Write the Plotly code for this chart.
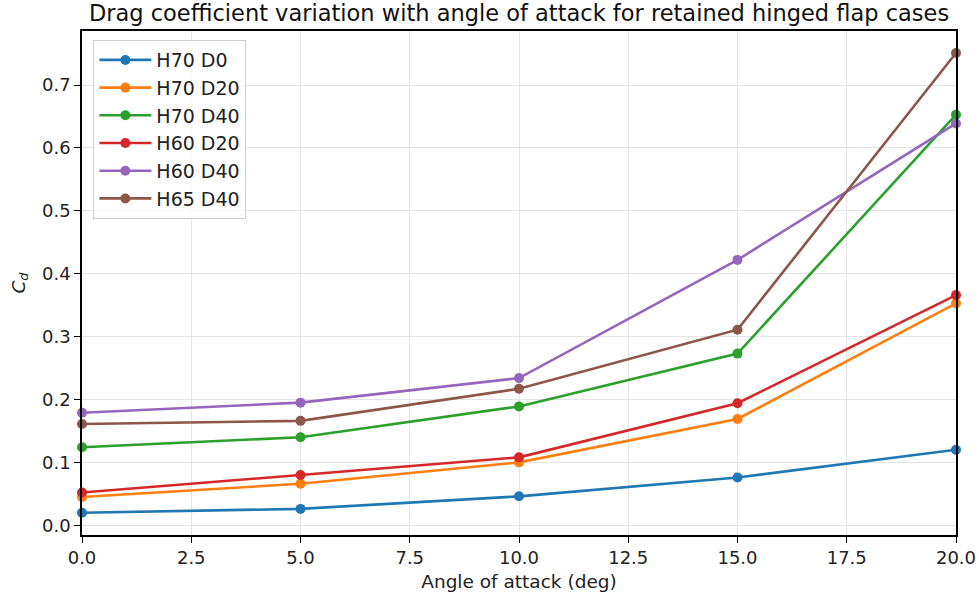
import plotly.graph_objects as go

angles = [0, 5, 10, 15, 20]
series_names = ["H70 D0", "H70 D20", "H70 D40", "H60 D20", "H60 D40", "H65 D40"]
h70_d0 = [0.020, 0.026, 0.046, 0.076, 0.120]
h70_d20 = [0.045, 0.066, 0.100, 0.169, 0.353]
h70_d40 = [0.124, 0.140, 0.189, 0.273, 0.653]
h60_d20 = [0.052, 0.080, 0.108, 0.194, 0.366]
h60_d40 = [0.179, 0.195, 0.234, 0.422, 0.639]
h65_d40 = [0.161, 0.166, 0.217, 0.311, 0.751]
series_values = [h70_d0, h70_d20, h70_d40, h60_d20, h60_d40, h65_d40]
colors = ["#1f77b4", "#ff7f0e", "#2ca02c", "#d62728", "#9467bd", "#8c564b"]

fig = go.Figure()
for name, vals, c in zip(series_names, series_values, colors):
    fig.add_trace(go.Scatter(
        x=angles, y=vals, name=name, mode="lines+markers",
        line=dict(color=c, width=2.6), marker=dict(color=c, size=10),
        cliponaxis=False,
    ))

font = "DejaVu Sans, sans-serif"
fig.update_layout(
    width=979, height=599,
    margin=dict(l=82, r=23, t=31, b=64, autoexpand=False),
    paper_bgcolor="white", plot_bgcolor="white",
    font=dict(family=font, size=18, color="#222"),
    title=dict(text="Drag coefficient variation with angle of attack for retained hinged flap cases",
               x=(82 + 956) / 2 / 979, xref="container", xanchor="center", y=1 - 13 / 599, yanchor="middle",
               yref="container", font=dict(size=22.5, color="#111")),
    showlegend=True,
    legend=dict(x=0.013, y=0.982, xanchor="left", yanchor="top",
                bgcolor="rgba(255,255,255,0.8)", bordercolor="#d0d0d0", borderwidth=1,
                font=dict(size=19, color="#222"), itemwidth=52, tracegroupgap=0),
)
fig.update_xaxes(
    range=[0, 20], dtick=2.5, tick0=0, tickformat=".1f", automargin=False,
    showgrid=True, gridcolor="#e4e4e4", gridwidth=1,
    showline=True, linecolor="black", linewidth=1.5, mirror=True,
    ticks="outside", ticklen=6, tickcolor="black", zeroline=False,
    title=dict(text="Angle of attack (deg)", font=dict(size=18.5), standoff=8),
    tickfont=dict(size=18),
)
fig.update_yaxes(
    range=[-0.0155, 0.786], dtick=0.1, tick0=0, tickformat=".1f", automargin=False,
    showgrid=True, gridcolor="#e4e4e4", gridwidth=1,
    showline=True, linecolor="black", linewidth=1.5, mirror=True,
    ticks="outside", ticklen=6, tickcolor="black", zeroline=False,
    title=dict(text="<i>C<sub>d</sub></i>", font=dict(size=18.5), standoff=12),
    tickfont=dict(size=18),
)
fig.write_html("out.html")
